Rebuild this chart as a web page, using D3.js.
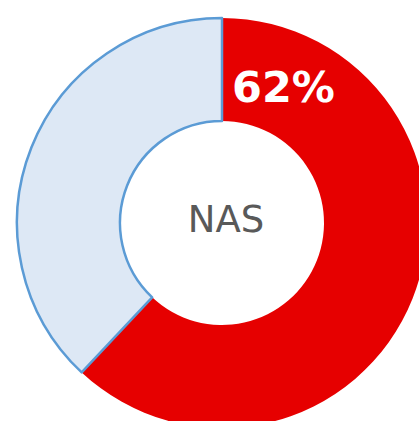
<!DOCTYPE html>
<html>
<head>
<meta charset="utf-8">
<script src="https://cdn.jsdelivr.net/npm/d3@7"></script>
<style>
  body { margin: 0; background: #fff; }
</style>
</head>
<body>
<div id="container"></div>
<script>
let w = 419;
let h = 421;

// data
let labels = ["NAS", "rest"];
let values = [62, 38];
let fills = ["#e60000", "#dde8f5"];
let strokes = ["none", "#5b9bd5"];
let centerLabel = "NAS";

let cx = 222;
let cy = 223;
let outerR = 205;
let innerR = 102;

let viz = d3.select("#container")
  .append("svg")
    .attr("width", w)
    .attr("height", h);

let pie = d3.pie().sort(null).value(d => d);
let arc = d3.arc().innerRadius(innerR).outerRadius(outerR);

let g = viz.append("g").attr("transform", "translate(" + cx + "," + cy + ")");

let slices = pie(values);

g.selectAll("path").data(slices).enter()
  .append("path")
    .attr("d", arc)
    .attr("fill", (d, i) => fills[i])
    .attr("stroke", (d, i) => strokes[i])
    .attr("stroke-width", 2.5)
    .attr("stroke-linejoin", "round");

// percent label, up in the top of the red slice
g.append("text")
    .attr("x", 61.5)
    .attr("y", -121)
    .attr("text-anchor", "middle")
    .style("font-family", "DejaVu Sans")
    .style("font-weight", "bold")
    .style("font-size", "43px")
    .style("fill", "white")
    .text(values[0] + "%");

// label in the hole
g.append("text")
    .attr("x", 4)
    .attr("y", 9)
    .attr("text-anchor", "middle")
    .style("font-family", "DejaVu Sans")
    .style("font-size", "37px")
    .style("fill", "#595959")
    .text(centerLabel);
</script>
</body>
</html>
